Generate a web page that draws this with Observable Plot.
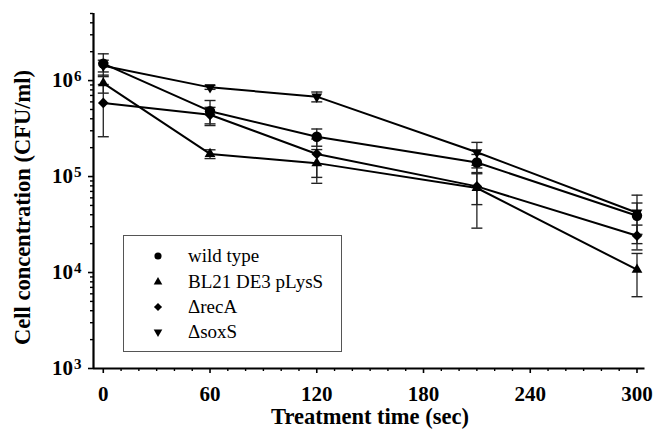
<!DOCTYPE html>
<html><head><meta charset="utf-8">
<script src="https://cdn.jsdelivr.net/npm/d3@7"></script>
<script src="https://cdn.jsdelivr.net/npm/@observablehq/plot@0.6"></script>
<style>
html,body{margin:0;padding:0;background:#fff;}
#wrap{position:relative;width:663px;height:430px;overflow:hidden;}
#legend{position:absolute;left:123px;top:235px;width:219px;height:117px;border:1px solid #555;box-sizing:border-box;background:#fff;font-family:"Liberation Serif",serif;font-size:19px;color:#000;}
.row{position:absolute;left:0;height:24px;display:flex;align-items:center;white-space:nowrap;}
.row svg{display:block;}
</style></head><body><div id="wrap"></div>
<script>
// ---- data ----
const times = [0, 60, 120, 210, 300];
const seriesNames = ["wild type", "BL21 DE3 pLysS", "\u0394recA", "\u0394soxS"];
const wildType    = [1.50e6, 4.8e5, 2.6e5, 1.40e5, 3.9e4];
const wildTypeErr = [4.0e5, 1.4e5, 5.3e4, 3.0e4, 1.4e4];
const bl21        = [9.4e5, 1.72e5, 1.38e5, 7.6e4, 1.07e4];
const bl21Err     = [2.0e5, 1.8e4, 5.3e4, 4.7e4, 5.1e3];
const recA        = [5.85e5, 4.4e5, 1.72e5, 7.9e4, 2.42e4];
const recAErr     = [3.25e5, 8.6e4, 7.4e4, 2.8e4, 7.0e3];
const soxS        = [1.43e6, 8.5e5, 6.8e5, 1.79e5, 4.2e4];
const soxSErr     = [2.0e5, 4.0e4, 8.0e4, 4.8e4, 2.2e4];

const xMajorTicks = [0, 60, 120, 180, 240, 300];
const xMinorTicks = [10, 20, 30, 40, 50, 70, 80, 90, 100, 110, 130, 140, 150, 160, 170, 190, 200, 210, 220, 230, 250, 260, 270, 280, 290];
const yMajorTicks = [1e3, 1e4, 1e5, 1e6];
const yMajorLabels = ["10^3", "10^4", "10^5", "10^6"];
const yMinorTicks = [2e3,3e3,4e3,5e3,6e3,7e3,8e3,9e3,2e4,3e4,4e4,5e4,6e4,7e4,8e4,9e4,2e5,3e5,4e5,5e5,6e5,7e5,8e5,9e5,2e6,3e6,4e6,5e6];
const xDomain = [-5.5, 304.5];
const yDomain = [1e3, 5e6];
const xTitle = "Treatment time (sec)";
const yTitle = "Cell concentration (CFU/ml)";

// ---- build table ----
const values = [wildType, bl21, recA, soxS];
const errors = [wildTypeErr, bl21Err, recAErr, soxSErr];
const rows = [];
seriesNames.forEach((s, i) => times.forEach((t, j) => rows.push({
  series: s, idx: i, t, v: values[i][j], lo: values[i][j] - errors[i][j], hi: values[i][j] + errors[i][j]
})));

const capSymbol = { draw(ctx) { ctx.moveTo(-5.5, 0); ctx.lineTo(5.5, 0); } };
const byIdx = i => rows.filter(d => d.idx === i);
const FONT = '"Liberation Serif", "Times New Roman", serif';

const chart = Plot.plot({
  width: 663, height: 430,
  marginLeft: 93, marginRight: 18.5, marginTop: 13, marginBottom: 62,
  style: { fontFamily: FONT, fontSize: "20px", fontWeight: "bold", background: "white", color: "black" },
  x: { type: "linear", domain: xDomain },
  y: { type: "log", domain: yDomain },
  marks: [
    Plot.ruleX(rows, { x: "t", y1: "lo", y2: "hi", stroke: "#222", strokeWidth: 1.3 }),
    Plot.dot(rows, { x: "t", y: "lo", symbol: capSymbol, r: 4, stroke: "#222", strokeWidth: 1.4, fill: "none" }),
    Plot.dot(rows, { x: "t", y: "hi", symbol: capSymbol, r: 4, stroke: "#222", strokeWidth: 1.4, fill: "none" }),
    Plot.line(rows, { x: "t", y: "v", z: "series", stroke: "black", strokeWidth: 2 }),
    Plot.dot(byIdx(0), { x: "t", y: "v", symbol: "circle", r: 5.2, fill: "black" }),
    Plot.dot(byIdx(1), { x: "t", y: "v", symbol: "triangle", r: 4, fill: "black" }),
    Plot.dot(byIdx(2), { x: "t", y: "v", symbol: "diamond2", r: 4.8, fill: "black" }),
    Plot.dot(byIdx(3), { x: "t", y: "v", symbol: "triangle", rotate: 180, r: 4, fill: "black" }),
    Plot.ruleX([xDomain[0]], { stroke: "black", strokeWidth: 2.2 }),
    Plot.ruleY([yDomain[0]], { stroke: "black", strokeWidth: 2.2 }),
    Plot.axisX(xMajorTicks, { tickSize: 5, tickPadding: 13, strokeWidth: 1.6, label: null, fontSize: 21 }),
    Plot.axisX(xMinorTicks, { tickSize: 3, tickFormat: () => "", strokeWidth: 1.4, label: null }),
    Plot.axisY(yMajorTicks, { tickSize: 5, tickPadding: 7, strokeWidth: 1.6, label: null, tickFormat: d => yMajorLabels[yMajorTicks.indexOf(d)], fontSize: 21 }),
    Plot.axisY(yMinorTicks, { tickSize: 3, tickFormat: () => "", strokeWidth: 1.4, label: null })
  ]
});

const NS = "http://www.w3.org/2000/svg";
// superscript exponents on y tick labels
chart.querySelectorAll('[aria-label="y-axis tick label"] text').forEach(t => {
  const s = t.textContent;
  if (!s.includes("^")) return;
  const [b, e] = s.split("^");
  t.textContent = "";
  const t1 = document.createElementNS(NS, "tspan"); t1.textContent = b;
  const t2 = document.createElementNS(NS, "tspan"); t2.textContent = e;
  t2.setAttribute("dy", "-0.4em"); t2.setAttribute("dx", "1"); t2.setAttribute("font-size", "15");
  t.append(t1, t2);
});

// axis titles
function addTitle(str, transform) {
  const t = document.createElementNS(NS, "text");
  t.setAttribute("transform", transform);
  t.setAttribute("text-anchor", "middle");
  t.setAttribute("font-size", "22.5");
  t.setAttribute("font-weight", "bold");
  t.setAttribute("font-family", FONT);
  t.setAttribute("fill", "black");
  t.textContent = str;
  chart.appendChild(t);
}
addTitle(xTitle, "translate(370,424)");
addTitle(yTitle, "translate(30,207.5) rotate(-90)");

const wrap = document.getElementById("wrap");
wrap.appendChild(chart);

// legend
const legend = document.createElement("div");
legend.id = "legend";
const symTypes = [d3.symbolCircle, d3.symbolTriangle, d3.symbolDiamond2, d3.symbolTriangle];
const symSizes = [40, 32, 42, 32];
const rowCenters = [20, 46, 71, 96];
seriesNames.forEach((name, i) => {
  const r = document.createElement("div");
  r.className = "row";
  r.style.top = (rowCenters[i] - 12) + "px";
  const path = d3.symbol(symTypes[i], symSizes[i])();
  const rot = i === 3 ? ' transform="rotate(180)"' : '';
  r.innerHTML = `<svg width="64" height="24" viewBox="-34 -12 64 24"><path d="${path}" fill="black"${rot}/></svg><span>${name}</span>`;
  legend.appendChild(r);
});
wrap.appendChild(legend);
</script>
</body></html>
